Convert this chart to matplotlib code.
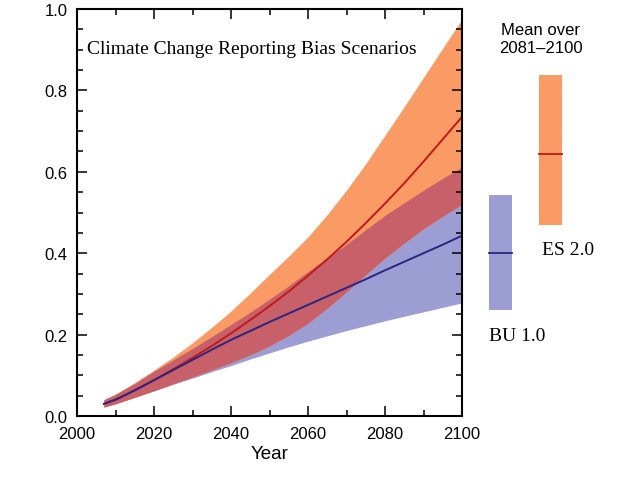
import numpy as np
import matplotlib
matplotlib.use("Agg")
import matplotlib.pyplot as plt
from matplotlib.ticker import MultipleLocator

# values
years = [2007, 2010, 2015, 2020, 2025, 2030, 2035, 2040, 2045, 2050,
         2055, 2060, 2065, 2070, 2075, 2080, 2085, 2090, 2095, 2100]

bu_mean = [0.030, 0.040, 0.063, 0.088, 0.113, 0.138, 0.163, 0.187, 0.209, 0.231,
           0.252, 0.273, 0.294, 0.315, 0.336, 0.358, 0.379, 0.400, 0.421, 0.443]
bu_low = [0.022, 0.030, 0.046, 0.062, 0.078, 0.093, 0.109, 0.124, 0.140, 0.155,
          0.170, 0.184, 0.197, 0.210, 0.222, 0.234, 0.245, 0.256, 0.267, 0.278]
bu_high = [0.040, 0.053, 0.080, 0.110, 0.138, 0.166, 0.195, 0.225, 0.255, 0.287,
           0.320, 0.355, 0.388, 0.422, 0.458, 0.493, 0.524, 0.555, 0.584, 0.612]

es_mean = [0.030, 0.040, 0.063, 0.088, 0.115, 0.143, 0.172, 0.203, 0.236, 0.270,
           0.306, 0.345, 0.385, 0.428, 0.474, 0.522, 0.572, 0.625, 0.680, 0.735]
es_low = [0.022, 0.030, 0.046, 0.062, 0.079, 0.096, 0.113, 0.131, 0.150, 0.172,
          0.198, 0.228, 0.265, 0.305, 0.347, 0.388, 0.425, 0.460, 0.491, 0.520]
es_high = [0.040, 0.054, 0.082, 0.113, 0.145, 0.180, 0.218, 0.258, 0.302, 0.348,
           0.393, 0.440, 0.495, 0.555, 0.620, 0.690, 0.760, 0.832, 0.904, 0.975]

# mean over 2081-2100: low, mean, high
bu_bar = [0.260, 0.400, 0.543]
es_bar = [0.469, 0.644, 0.838]

orange = "#fa9a64"
blue = "#9c9ed3"
overlap = "#c8606a"
red_line = "#c01a1a"
navy_line = "#2a2580"

sans = ["Liberation Sans", "DejaVu Sans"]
serif = ["Liberation Serif", "DejaVu Serif"]
plt.rcParams["font.family"] = sans

fig = plt.figure(figsize=(6.3, 4.81), dpi=100)
ax = fig.add_axes([77 / 630, 1 - 417 / 481, 385 / 630, 407 / 481])

yrs = np.array(years)
ax.fill_between(yrs, bu_low, bu_high, color=blue, lw=0)
ax.fill_between(yrs, es_low, es_high, color=orange, lw=0)
ov_lo = np.maximum(bu_low, es_low)
ov_hi = np.minimum(bu_high, es_high)
ax.fill_between(yrs, ov_lo, ov_hi, where=ov_hi > ov_lo, color=overlap, lw=0)
ax.plot(yrs, es_mean, color=red_line, lw=1.4)
ax.plot(yrs, bu_mean, color=navy_line, lw=1.4)

# side bars
ax.bar(2110, bu_bar[2] - bu_bar[0], bottom=bu_bar[0], width=6, color=blue, clip_on=False)
ax.plot([2107, 2113], [bu_bar[1], bu_bar[1]], color=navy_line, lw=1.3, clip_on=False)
ax.bar(2123, es_bar[2] - es_bar[0], bottom=es_bar[0], width=6, color=orange, clip_on=False)
ax.plot([2120, 2126], [es_bar[1], es_bar[1]], color=red_line, lw=1.3, clip_on=False)

ax.set_xlim(2000, 2100)
ax.set_ylim(0, 1.0)
ax.xaxis.set_major_locator(MultipleLocator(20))
ax.xaxis.set_minor_locator(MultipleLocator(10))
ax.yaxis.set_major_locator(MultipleLocator(0.2))
ax.yaxis.set_minor_locator(MultipleLocator(0.05))
ax.yaxis.set_major_formatter(plt.FormatStrFormatter("%.1f"))
ax.tick_params(which="both", direction="in", top=True, right=True, width=1.1, labelsize=12)
ax.tick_params(which="major", length=7, pad=7)
ax.tick_params(which="minor", length=4)
for s in ax.spines.values():
    s.set_linewidth(1.5)
ax.set_xlabel("Year", fontsize=13.5, labelpad=3)

ax.text(2002.6, 0.902, "Climate Change Reporting Bias Scenarios", family=serif,
        fontsize=14, va="center", ha="left")
ax.text(2120.5, 0.927, "Mean over\n2081\u20132100", fontsize=12, ha="center",
        va="center", linespacing=1.25, clip_on=False)
ax.text(2120.8, 0.41, "ES 2.0", family=serif, fontsize=14, va="center", ha="left", clip_on=False)
ax.text(2107, 0.199, "BU 1.0", family=serif, fontsize=14, va="center", ha="left", clip_on=False)

fig.savefig("out.png", dpi=100)
